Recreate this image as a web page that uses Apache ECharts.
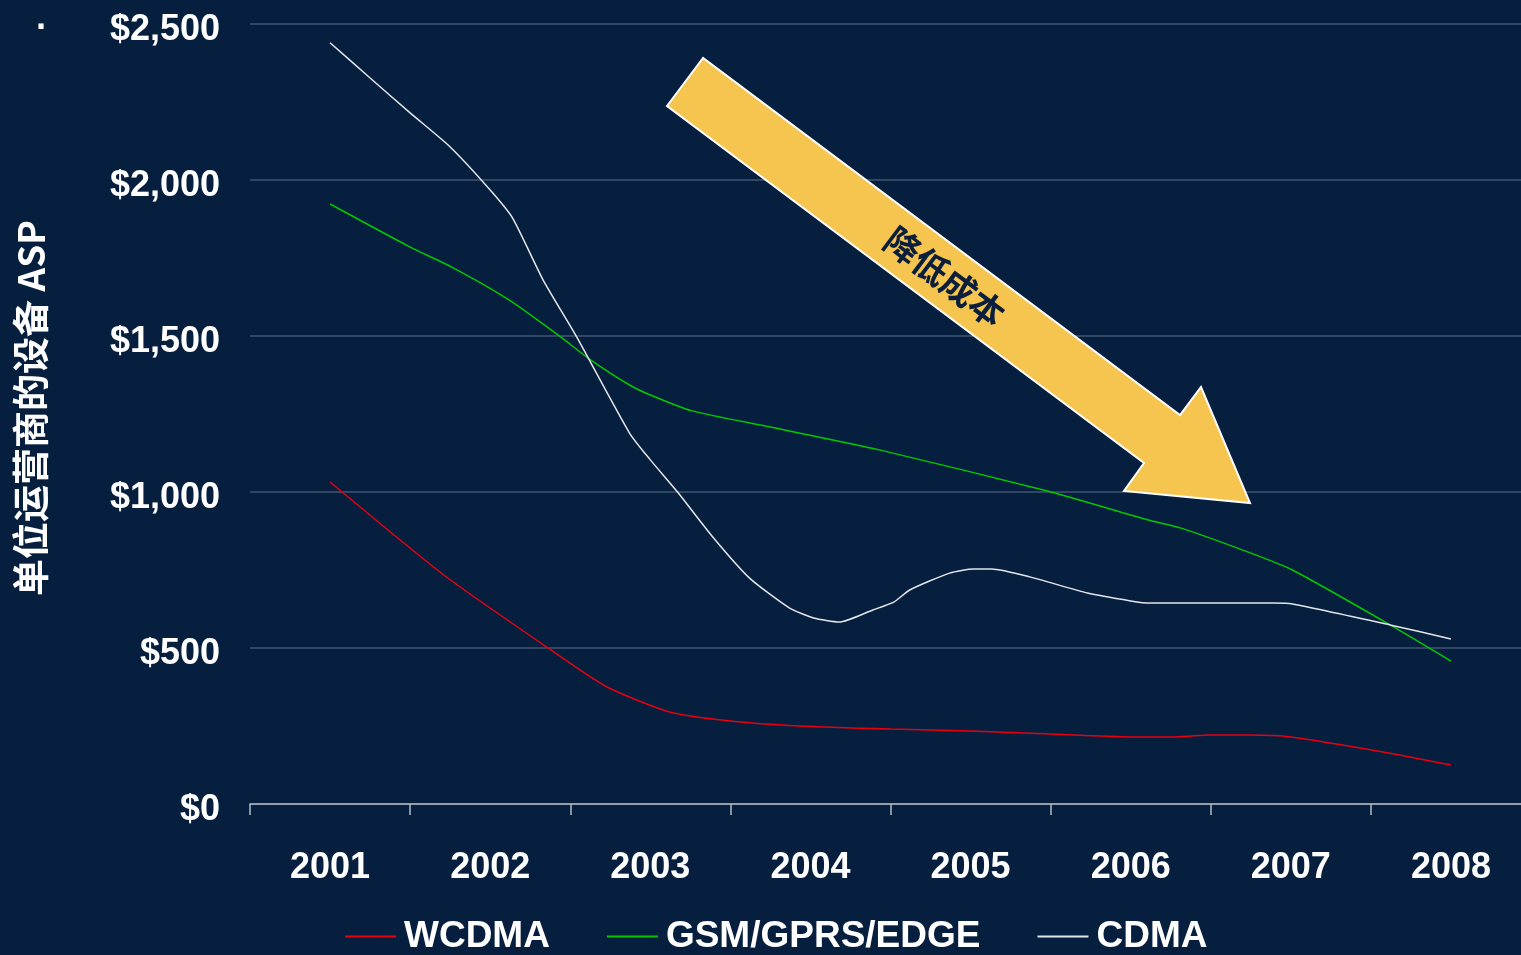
<!DOCTYPE html>
<html>
<head>
<meta charset="utf-8">
<style>
  html, body { margin: 0; padding: 0; background: #071f3f; }
  #chart { width: 1521px; height: 955px; }
</style>
<script src="https://cdn.jsdelivr.net/npm/echarts@6/dist/echarts.min.js"></script>
</head>
<body>
<div id="chart"></div>
<script>
// Year labels along the bottom axis
const years = ['2001', '2002', '2003', '2004', '2005', '2006', '2007', '2008'];

// Average selling price per operator, sampled through each year: [year, USD]
const wcdma = [
  [2001.00, 1032], [2001.71, 734], [2002.37, 497], [2002.73, 375],
  [2003.12, 295], [2003.50, 266], [2003.93, 250], [2004.50, 240],
  [2005.00, 234], [2005.50, 224], [2006.00, 215], [2006.26, 215],
  [2006.50, 221], [2006.74, 221], [2007.00, 215], [2007.62, 163],
  [2008.00, 125]
];
const gsm = [
  [2001.00, 1923], [2001.50, 1785], [2001.76, 1721], [2002.12, 1615],
  [2002.44, 1497], [2002.62, 1426], [2002.87, 1343], [2003.00, 1311],
  [2003.26, 1260], [2003.75, 1208], [2004.43, 1135], [2005.48, 1003],
  [2006.11, 910], [2006.31, 885], [2006.73, 808], [2007.01, 750],
  [2007.62, 574], [2008.00, 458]
];
const cdma = [
  [2001.00, 2440], [2001.25, 2327], [2001.50, 2215], [2001.75, 2106],
  [2002.00, 1968], [2002.14, 1878], [2002.33, 1680], [2002.54, 1497],
  [2002.87, 1189], [2003.00, 1103], [2003.17, 1000], [2003.39, 856],
  [2003.62, 724], [2003.87, 628], [2004.02, 596], [2004.18, 583],
  [2004.39, 622], [2004.52, 647], [2004.62, 686], [2004.87, 740],
  [2005.02, 753], [2005.13, 753], [2005.37, 728], [2005.73, 676],
  [2006.00, 651], [2006.12, 644], [2006.89, 644], [2007.01, 641],
  [2007.62, 574], [2008.00, 529]
];

const seriesNames = ['WCDMA', 'GSM/GPRS/EDGE', 'CDMA'];
const seriesColors = ['#e8000f', '#00c800', '#e4e6ea'];

const latin = '"Liberation Sans", Arial, sans-serif';
const cjk = '"Noto Sans CJK SC", "Liberation Sans", sans-serif';

const chart = echarts.init(document.getElementById('chart'), null, { renderer: 'canvas' });

function money(v) {
  return '$' + String(v).replace(/\B(?=(\d{3})+(?!\d))/g, ',');
}

function lineSeries(name, data, color) {
  return {
    name: name,
    type: 'line',
    xAxisIndex: 1,
    data: data,
    symbol: 'none',
    smooth: 0.2,
    lineStyle: { color: color, width: 1.5 },
    itemStyle: { color: color }
  };
}

chart.setOption({
  backgroundColor: '#071f3f',
  animation: false,
  // the plot runs slightly past the right edge of the canvas
  grid: { left: 250, width: 1281, top: 24, bottom: 151, outerBoundsMode: 'none', containLabel: false },
  legend: {
    data: seriesNames,
    left: 345,
    top: 918,
    padding: 0,
    icon: 'rect',
    itemWidth: 51,
    itemHeight: 2,
    itemGap: 57,
    textStyle: { color: '#ffffff', fontFamily: latin, fontWeight: 'bold', fontSize: 37, lineHeight: 36, padding: [0, 0, 0, 3] }
  },
  xAxis: [
    {
      type: 'category',
      data: years,
      boundaryGap: true,
      axisLine: { show: true, lineStyle: { color: '#b4bcc8', width: 1.5 } },
      axisTick: { show: true, length: 11, lineStyle: { color: '#b4bcc8', width: 1.5 } },
      axisLabel: { color: '#ffffff', fontFamily: latin, fontWeight: 'bold', fontSize: 36, margin: 46 },
      splitLine: { show: false }
    },
    {
      type: 'value',
      min: 2000.5,
      max: 2008.5,
      show: false
    }
  ],
  yAxis: {
    type: 'value',
    min: 0,
    max: 2500,
    interval: 500,
    axisLine: { show: false },
    axisTick: { show: false },
    axisLabel: {
      color: '#ffffff', fontFamily: latin, fontWeight: 'bold', fontSize: 36, margin: 30,
      verticalAlign: 'top',
      lineHeight: 13,
      formatter: money
    },
    splitLine: { show: true, lineStyle: { color: 'rgba(200,210,225,0.3)', width: 1.5 } }
  },
  series: [
    lineSeries(seriesNames[0], wcdma, seriesColors[0]),
    lineSeries(seriesNames[1], gsm, seriesColors[1]),
    lineSeries(seriesNames[2], cdma, seriesColors[2])
  ],
  graphic: [
    {
      type: 'text',
      rotation: Math.PI / 2,
      x: 31, y: 408,
      style: {
        text: '单位运营商的设备 ASP',
        fill: '#ffffff',
        font: 'bold 37px ' + cjk,
        align: 'center',
        verticalAlign: 'middle'
      }
    },
    {
      type: 'text',
      x: 42, y: 29,
      style: {
        text: '·',
        fill: '#ffffff',
        font: 'bold 36px ' + latin,
        align: 'center',
        verticalAlign: 'middle'
      }
    },
    {
      type: 'polygon',
      shape: {
        points: [[703, 58], [667, 106], [1144, 463], [1124, 491], [1250, 503], [1201, 387], [1180, 415]]
      },
      style: { fill: '#f5c54f', stroke: '#ffffff', lineWidth: 2 },
      z: 10
    },
    {
      type: 'text',
      x: 945, y: 277,
      rotation: -Math.atan(357 / 477),
      style: {
        text: '降低成本',
        fill: '#0b1e3c',
        font: 'bold 35px ' + cjk,
        align: 'center',
        verticalAlign: 'middle'
      },
      z: 11
    }
  ]
});
</script>
</body>
</html>
